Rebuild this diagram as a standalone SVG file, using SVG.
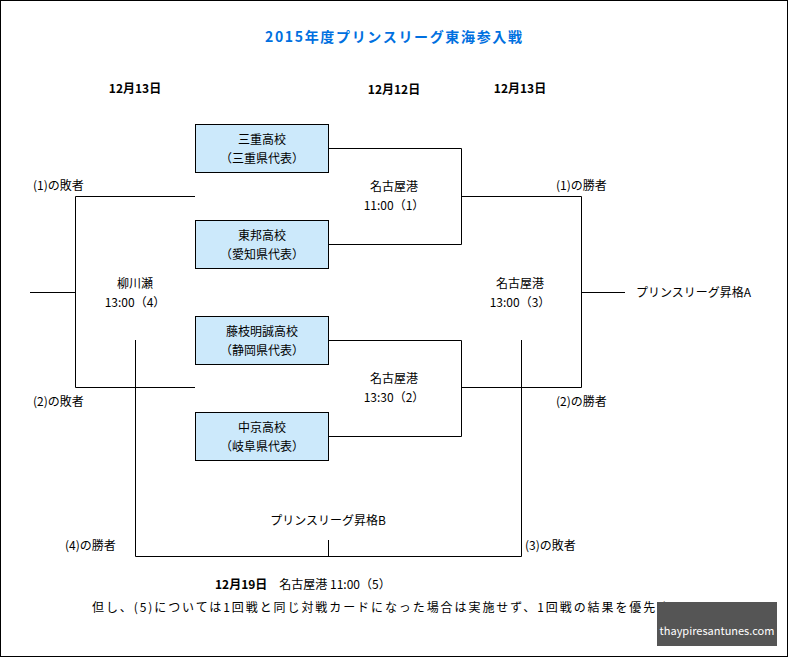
<svg xmlns="http://www.w3.org/2000/svg" width="788" height="657" viewBox="0 0 788 657">
<style>
text{font-family:"Noto Sans CJK JP","Liberation Sans",sans-serif;font-size:12px;fill:#000}
.b{font-weight:bold}
.m{text-anchor:middle}
.box rect{fill:#cce9fb;stroke:#000;stroke-width:1}
#conn path{fill:none;stroke:#000;stroke-width:1}
</style>
<rect x="0.5" y="0.5" width="787" height="656" fill="#fff" stroke="#000"/>
<text x="265" y="42" class="b" textLength="257" style="fill:#0070e0;font-size:14px">2015年度プリンスリーグ東海参入戦</text>
<text x="135" y="93" class="b m">12月13日</text>
<text x="394" y="94" class="b m">12月12日</text>
<text x="520" y="93" class="b m">12月13日</text>
<g id="conn">
<path d="M328.5 148.5H461.5V244.5H328.5M328.5 340.5H461.5V436.5H328.5M461.5 196.5H581.5V387.5H461.5M581.5 292.5H625"/>
<path d="M195 196.5H75.5V387.5H195M30 292.5H75.5"/>
<path d="M135.5 340V556.5H521.5V340M328.5 540V556.5"/>
</g>
<g id="n1" class="box"><rect x="195.5" y="124.5" width="133" height="48"/><text x="262" y="144" class="m">三重高校</text><text x="262" y="163" class="m">（三重県代表）</text></g>
<g id="n2" class="box"><rect x="195.5" y="220.5" width="133" height="48"/><text x="262" y="240" class="m">東邦高校</text><text x="262" y="259" class="m">（愛知県代表）</text></g>
<g id="n3" class="box"><rect x="195.5" y="316.5" width="133" height="48"/><text x="262" y="336" class="m">藤枝明誠高校</text><text x="262" y="355" class="m">（静岡県代表）</text></g>
<g id="n4" class="box"><rect x="195.5" y="412.5" width="133" height="48"/><text x="262" y="432" class="m">中京高校</text><text x="262" y="451" class="m">（岐阜県代表）</text></g>
<text x="394" y="191" class="m">名古屋港</text><text x="394" y="210" class="m">11:00（1）</text>
<text x="394" y="383" class="m">名古屋港</text><text x="394" y="402" class="m">13:30（2）</text>
<text x="135" y="288" class="m">柳川瀬</text><text x="135" y="307" class="m">13:00（4）</text>
<text x="520" y="288" class="m">名古屋港</text><text x="520" y="307" class="m">13:00（3）</text>
<text x="33" y="190">(1)の敗者</text>
<text x="33" y="406">(2)の敗者</text>
<text x="556" y="190">(1)の勝者</text>
<text x="556" y="406">(2)の勝者</text>
<text x="636" y="297">プリンスリーグ昇格A</text>
<text x="328" y="525" class="m">プリンスリーグ昇格B</text>
<text x="65" y="550">(4)の勝者</text>
<text x="525" y="550">(3)の敗者</text>
<text x="215" y="589"><tspan class="b">12月19日</tspan>　名古屋港 11:00（5）</text>
<text x="92" y="612" textLength="605">但し、(5)については1回戦と同じ対戦カードになった場合は実施せず、1回戦の結果を優先する。</text>
<rect x="657" y="602" width="120" height="44" fill="#555"/>
<text x="717" y="635" class="m" style="fill:#fff;font-size:11px">thaypiresantunes.com</text>
</svg>
